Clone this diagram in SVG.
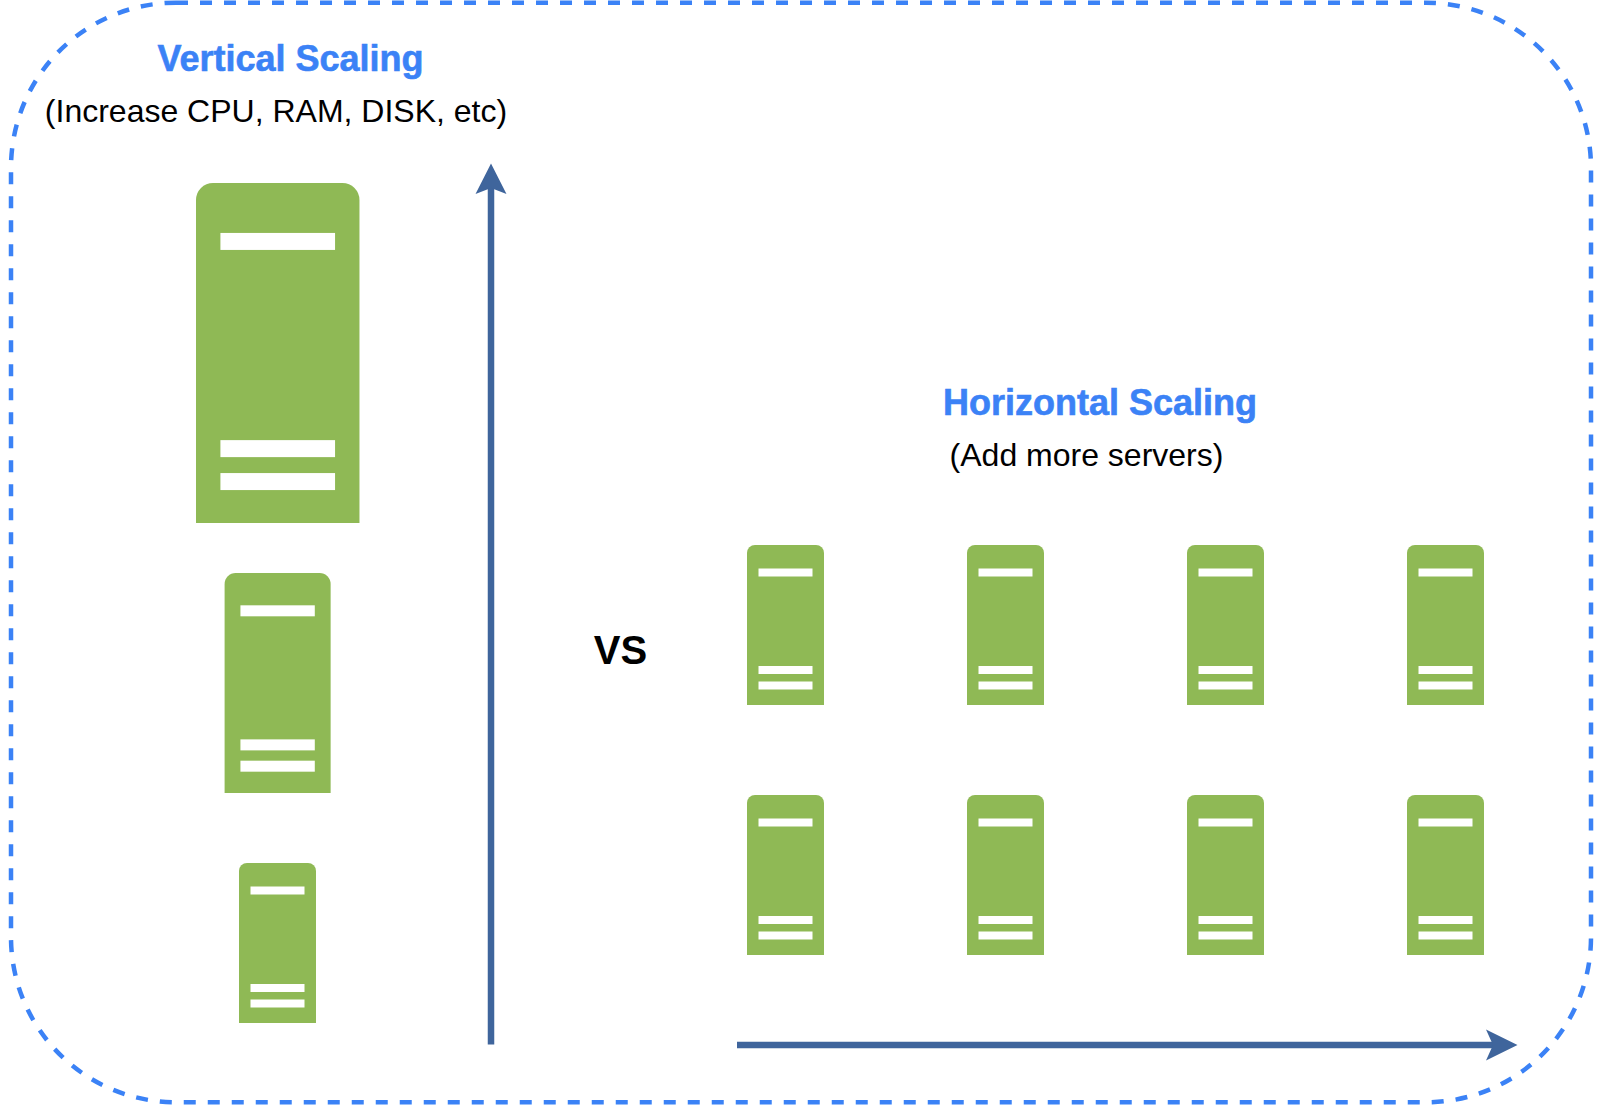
<svg xmlns="http://www.w3.org/2000/svg" width="1604" height="1106" viewBox="0 0 1604 1106">
<style>
text{font-family:"Liberation Sans",Arial,sans-serif}
.title{font-size:36px;font-weight:bold;fill:#3B82F6;stroke:#3B82F6;stroke-width:.6px}
.sub{font-size:32px;fill:#000}
.body{fill:#8FB955}
.bar{fill:#fff}
.conn{fill:none;stroke:#3F659C;stroke-width:6.5}
.head{fill:#3F659C}
</style>
<defs>
<g id="srv">
<path class="body" d="M0 160V8A8 8 0 0 1 8 0H69A8 8 0 0 1 77 8V160Z"/>
<rect class="bar" x="11.5" y="23.5" width="54" height="8"/>
<rect class="bar" x="11.5" y="121" width="54" height="8"/>
<rect class="bar" x="11.5" y="136.5" width="54" height="8"/>
</g>
</defs>
<rect width="1604" height="1106" fill="#fff"/>
<rect id="frame" x="11" y="2.7" width="1580" height="1099.6" rx="165" ry="165" fill="none" stroke="#3B82F6" stroke-width="4.5" stroke-dasharray="12 12"/>
<g id="vertical-label">
<text class="title" x="290.5" y="70.5" text-anchor="middle">Vertical Scaling</text>
<text class="sub" x="276" y="122" text-anchor="middle">(Increase CPU, RAM, DISK, etc)</text>
</g>
<g id="horizontal-label">
<text class="title" x="1100" y="414.5" text-anchor="middle">Horizontal Scaling</text>
<text class="sub" x="1086.5" y="466" text-anchor="middle">(Add more servers)</text>
</g>
<g id="vs"><text x="620.5" y="664" text-anchor="middle" font-size="40" font-weight="bold">VS</text></g>
<g id="server-large"><use href="#srv" transform="translate(196 183) scale(2.123 2.125)"/></g>
<g id="server-medium"><use href="#srv" transform="translate(224.6 573) scale(1.377 1.375)"/></g>
<g id="server-small"><use href="#srv" transform="translate(239 863)"/></g>
<g id="h1"><use href="#srv" x="747" y="545"/></g>
<g id="h2"><use href="#srv" x="967" y="545"/></g>
<g id="h3"><use href="#srv" x="1187" y="545"/></g>
<g id="h4"><use href="#srv" x="1407" y="545"/></g>
<g id="h5"><use href="#srv" x="747" y="795"/></g>
<g id="h6"><use href="#srv" x="967" y="795"/></g>
<g id="h7"><use href="#srv" x="1187" y="795"/></g>
<g id="h8"><use href="#srv" x="1407" y="795"/></g>
<g id="connectors">
<path class="conn" d="M491 1044.5V185"/>
<path class="head" d="M491 163.5L506.5 194L491 188L475.5 194Z"/>
<path class="conn" d="M737 1045H1495"/>
<path class="head" d="M1517.5 1045L1486 1060.5L1493 1045L1486 1029.5Z"/>
</g>
</svg>
